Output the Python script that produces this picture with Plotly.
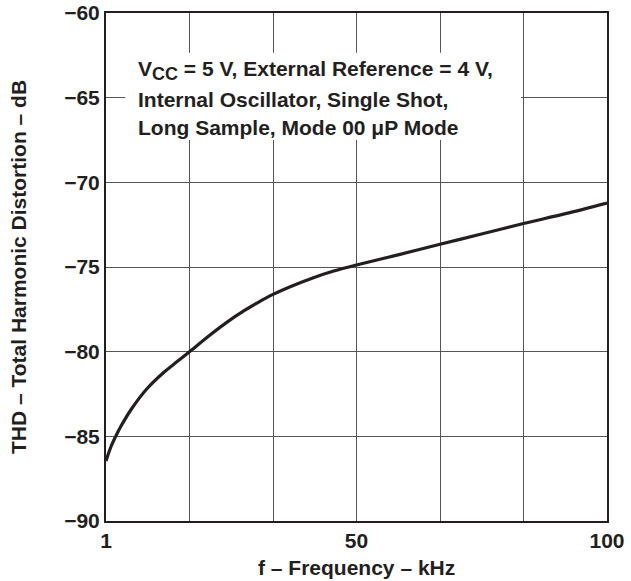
import plotly.graph_objects as go

freq_khz = [1, 2, 3, 4, 6, 9, 12.5, 15, 17.5, 21.5, 25, 28.3, 31, 34, 38, 42, 46, 50.5,
            58.9, 67, 75.2, 83.5, 91.8, 100]
thd_db = [-86.45, -85.6, -84.95, -84.38, -83.4, -82.22, -81.2, -80.6, -80.0, -79.03,
          -78.24, -77.58, -77.1, -76.62, -76.09, -75.63, -75.24, -74.88,
          -74.27, -73.66, -73.05, -72.43, -71.85, -71.22]

x_tick_vals = [1, 50.5, 100]
x_tick_text = ["1", "50", "100"]
y_tick_vals = [-90, -85, -80, -75, -70, -65, -60]
y_tick_text = ["−90", "−85", "−80", "−75", "−70", "−65", "−60"]

x_title = "f – Frequency – kHz"
y_title = "THD – Total Harmonic Distortion – dB"
note_lines = [
    "V<sub><span style='font-size:18px'>CC</span></sub> = 5 V, External Reference = 4 V,",
    "Internal Oscillator, Single Shot,",
    "Long Sample, Mode 00 μP Mode",
]

FONT = "Liberation Sans, Arial, sans-serif"
DARK = "#231f20"
FS = 21

fig = go.Figure()
fig.add_trace(go.Scatter(x=freq_khz, y=thd_db, mode="lines",
                         line=dict(color=DARK, width=3.2, shape="spline", smoothing=0.9),
                         showlegend=False, hoverinfo="skip"))

fig.update_layout(
    width=631, height=581,
    margin=dict(l=106, r=24, t=13, b=60),
    paper_bgcolor="white", plot_bgcolor="white",
    font=dict(family=FONT, color=DARK, size=FS),
    xaxis=dict(range=[1, 100], tickvals=x_tick_vals, ticktext=x_tick_text,
               automargin=False, showgrid=False, zeroline=False, ticks="",
               tickfont=dict(family=FONT, size=FS, color=DARK, weight="bold"),
               showline=True, linecolor=DARK, linewidth=2, mirror=True,
               minor=dict(tick0=1, dtick=16.5, showgrid=True, gridcolor="#555", gridwidth=1)),
    yaxis=dict(range=[-90, -60], tickvals=y_tick_vals, ticktext=y_tick_text,
               automargin=False, showgrid=True, gridcolor="#555", gridwidth=1,
               zeroline=False, ticks="",
               tickfont=dict(family=FONT, size=FS, color=DARK, weight="bold"),
               showline=True, linecolor=DARK, linewidth=2, mirror=True),
)

# axis titles
fig.add_annotation(x=0.5, y=-0.0925, xref="paper", yref="paper", text="<b>" + x_title + "</b>",
                   showarrow=False, xanchor="center", yanchor="middle",
                   font=dict(family=FONT, size=FS, color=DARK))
fig.add_annotation(x=-0.1756, y=0.5, xref="paper", yref="paper", text="<b>" + y_title + "</b>",
                   showarrow=False, xanchor="center", yanchor="middle", textangle=-90,
                   font=dict(family=FONT, size=FS, color=DARK))

# white box behind the note
fig.add_shape(type="rect", xref="x", yref="y", x0=4.8, x1=83.0, y0=-67.5, y1=-62.35,
              fillcolor="white", line=dict(width=0), layer="above")

line_y = [-63.4, -65.1, -66.75]
for txt, yy in zip(note_lines, line_y):
    fig.add_annotation(x=6.9, y=yy, xref="x", yref="y", text="<b>" + txt + "</b>",
                       showarrow=False, xanchor="left", yanchor="middle", align="left",
                       font=dict(family=FONT, size=21, color=DARK))

fig.write_html("out.html", config={"displayModeBar": False},
               post_script="document.body.style.margin='0px';")
